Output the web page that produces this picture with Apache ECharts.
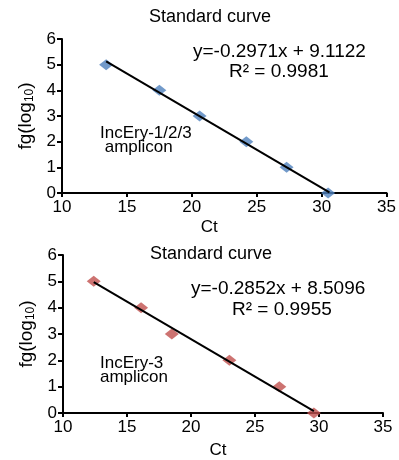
<!DOCTYPE html>
<html>
<head>
<meta charset="utf-8">
<script src="https://cdn.jsdelivr.net/npm/echarts@6/dist/echarts.min.js"></script>
<style>
  html, body { margin: 0; padding: 0; background: #fff; }
  #chart { width: 399px; height: 460px; }
</style>
</head>
<body>
<div id="chart"></div>
<script>
// top panel: IncEry-1/2/3
const ctTop = [13.4, 17.5, 20.6, 24.2, 27.3, 30.5];
const logTop = [5, 4, 3, 2, 1, 0];
const fitTop = [[13.4, 5.13], [30.6, 0.02]];

// bottom panel: IncEry-3
const ctBottom = [12.4, 16.1, 18.5, 23.0, 26.9, 29.6];
const logBottom = [5, 4, 3, 2, 1, 0];
const fitBottom = [[12.4, 4.97], [29.6, 0.07]];

const xTicks = [10, 15, 20, 25, 30, 35];
const yTicks = [0, 1, 2, 3, 4, 5, 6];

const font = 'Liberation Sans, Arial, sans-serif';

function pairs(xs, ys) {
  return xs.map((x, i) => [x, ys[i]]);
}

function xAxisCfg(gridIndex, namePad, nameGap) {
  return {
    type: 'value',
    gridIndex,
    min: xTicks[0],
    max: xTicks[xTicks.length - 1],
    interval: 5,
    name: 'Ct',
    nameLocation: 'middle',
    nameGap,
    nameTextStyle: { color: '#000', fontSize: 17, fontFamily: font, padding: namePad },
    axisLine: { show: true, onZero: false, lineStyle: { color: '#000', width: 2 } },
    axisTick: { show: true, inside: false, length: 4, lineStyle: { color: '#000', width: 2 } },
    axisLabel: { color: '#000', fontSize: 17, fontFamily: font, margin: 6 },
    splitLine: { show: false }
  };
}

function yAxisCfg(gridIndex) {
  return {
    type: 'value',
    gridIndex,
    min: yTicks[0],
    max: yTicks[yTicks.length - 1],
    interval: 1,
    name: 'fg(log{sub|10})',
    nameLocation: 'middle',
    nameRotate: 90,
    nameGap: 26,
    nameTextStyle: {
      color: '#000', fontSize: 19, fontFamily: font,
      rich: {
        sub: { fontSize: 12, fontFamily: font, color: '#000', verticalAlign: 'bottom', padding: [8, 0, 0, 0] }
      }
    },
    axisLine: { show: true, onZero: false, lineStyle: { color: '#000', width: 2 } },
    axisTick: { show: true, inside: false, length: 5, lineStyle: { color: '#000', width: 2 } },
    axisLabel: { color: '#000', fontSize: 17, fontFamily: font, margin: 6 },
    splitLine: { show: false }
  };
}

const chart = echarts.init(document.getElementById('chart'));

const option = {
  backgroundColor: '#fff',
  animation: false,
  title: [
    { text: 'Standard curve', left: 205, top: 3, textAlign: 'center',
      textStyle: { fontSize: 18, fontWeight: 'normal', color: '#000', fontFamily: font } },
    { text: 'Standard curve', left: 206, top: 240, textAlign: 'center',
      textStyle: { fontSize: 18, fontWeight: 'normal', color: '#000', fontFamily: font } }
  ],
  grid: [
    { left: 62, top: 39, width: 325, height: 154 },
    { left: 63, top: 255, width: 320, height: 161 }
  ],
  xAxis: [xAxisCfg(0, [0, 30, 0, 0], 26), xAxisCfg(1, [0, 10, 0, 0], 29)],
  yAxis: [yAxisCfg(0), yAxisCfg(1)],
  graphic: [
    { type: 'text', left: 193, top: 42,
      style: { text: 'y=-0.2971x + 9.1122', fill: '#000', font: '19px ' + font } },
    { type: 'text', left: 229, top: 62,
      style: { text: 'R² = 0.9981', fill: '#000', font: '19px ' + font } },
    { type: 'text', left: 100, top: 125,
      style: { text: 'IncEry-1/2/3\n amplicon', fill: '#000', font: '17px ' + font, lineHeight: 14 } },
    { type: 'text', left: 191, top: 279,
      style: { text: 'y=-0.2852x + 8.5096', fill: '#000', font: '19px ' + font } },
    { type: 'text', left: 232, top: 300,
      style: { text: 'R² = 0.9955', fill: '#000', font: '19px ' + font } },
    { type: 'text', left: 100, top: 355,
      style: { text: 'IncEry-3\namplicon', fill: '#000', font: '17px ' + font, lineHeight: 14 } }
  ],
  series: [
    {
      type: 'scatter', xAxisIndex: 0, yAxisIndex: 0,
      symbol: 'diamond', symbolSize: [14, 11],
      itemStyle: { color: '#4f81bd' },
      data: pairs(ctTop, logTop), z: 2
    },
    {
      type: 'line', xAxisIndex: 0, yAxisIndex: 0,
      showSymbol: false, lineStyle: { color: '#000', width: 2 },
      data: fitTop, z: 3
    },
    {
      type: 'scatter', xAxisIndex: 1, yAxisIndex: 1,
      symbol: 'diamond', symbolSize: [14, 11],
      itemStyle: { color: '#c0504d' },
      data: pairs(ctBottom, logBottom), z: 2
    },
    {
      type: 'line', xAxisIndex: 1, yAxisIndex: 1,
      showSymbol: false, lineStyle: { color: '#000', width: 2 },
      data: fitBottom, z: 3
    }
  ]
};

chart.setOption(option);

window.addEventListener('resize', () => {
  chart.resize();
});
</script>
</body>
</html>
